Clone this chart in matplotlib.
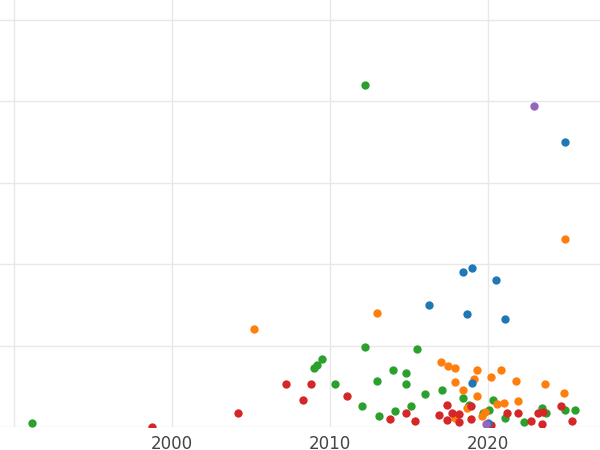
import matplotlib
matplotlib.use("Agg")
import matplotlib.pyplot as plt

green_x = [1991.1,2012.2,2012.2,2009.5,2009.2,2009.0,2010.3,2013.0,2014.0,2014.8,2014.8,2015.5,2016.0,2017.1,2012.0,2013.1,2014.1,2015.1,2018.4,2020.3,2020.1,2021.1,2023.4,2023.7,2024.9,2025.5,2022.3,2019.7,2018.8]
green_y = [1.0,83.9,19.6,16.7,15.2,14.5,10.6,11.3,14.0,13.3,10.6,19.1,8.1,9.1,5.2,2.7,3.9,5.2,7.1,6.6,4.2,2.2,4.7,3.4,4.2,4.2,1.2,3.4,5.4]
orange_x = [2005.2,2013.0,2024.9,2017.0,2017.5,2017.9,2019.3,2020.8,2019.1,2017.9,2018.4,2020.2,2021.8,2023.6,2024.8,2019.3,2021.9,2021.0,2020.6,2019.8,2019.6,2018.7,2017.9]
orange_y = [24.0,28.0,46.1,16.0,15.0,14.5,14.0,14.0,11.8,11.0,9.1,12.3,11.3,10.6,8.3,7.6,6.4,5.9,5.6,3.7,2.7,4.7,2.2]
red_x = [1998.7,2004.2,2007.2,2008.3,2008.8,2011.1,2013.8,2014.8,2015.4,2016.9,2017.4,2017.4,2017.7,2018.2,2018.9,2018.9,2018.2,2020.2,2021.2,2021.9,2022.7,2023.2,2023.5,2024.6,2025.3,2023.4]
red_y = [0,3.4,10.6,6.6,10.6,7.6,2.0,3.4,1.5,2.9,5.4,1.7,3.4,1.2,5.2,2.0,3.2,0.5,3.4,3.4,1.5,3.4,3.7,5.2,1.5,0.7]
blue_x = [2024.9,2019.0,2018.4,2020.5,2016.3,2018.7,2021.1,2019.0,2020.0]
blue_y = [69.9,39.0,38.0,36.1,29.9,27.7,26.5,10.8,1.0]
purple_x = [2022.9,2019.9]
purple_y = [78.8,0.7]

fig = plt.figure(figsize=(6, 4.5), dpi=100)
ax = fig.add_axes([0, 1 - 427/450, 1, 427/450])
for xs, ys, c in [(green_x, green_y, "#2ca02c"), (orange_x, orange_y, "#ff7f0e"),
                  (red_x, red_y, "#d62728"), (blue_x, blue_y, "#1f77b4"),
                  (purple_x, purple_y, "#9467bd")]:
    ax.scatter(xs, ys, s=36, color=c, zorder=3, linewidths=0)
ax.set_xlim(1989.1, 2027.1)
ax.set_ylim(0, 104.8)
ax.set_xticks([1990, 2000, 2010, 2020])
ax.set_xticklabels(["", "2000", "2010", "2020"])
ax.set_yticks([0, 20, 40, 60, 80, 100])
ax.set_yticklabels([])
ax.tick_params(length=0, labelsize=12, labelcolor="#444444", pad=6)
ax.grid(True, color="#e8e8e8", linewidth=1)
ax.set_axisbelow(True)
for s in ax.spines.values():
    s.set_visible(False)
fig.savefig("out.png", dpi=100)
